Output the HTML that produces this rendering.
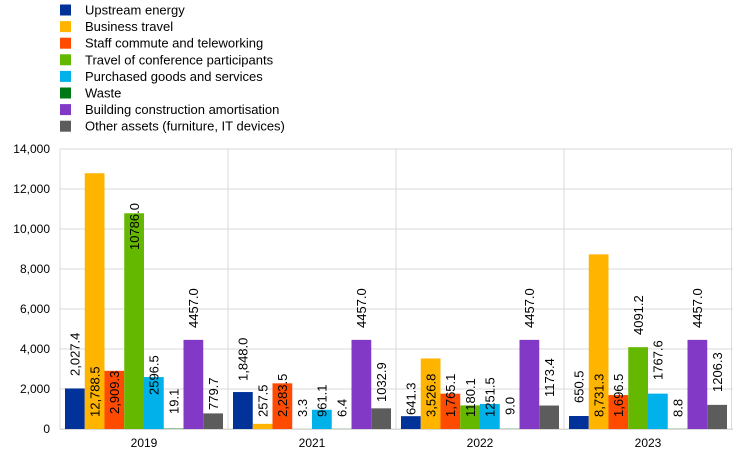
<!DOCTYPE html>
<html><head><meta charset="utf-8"><style>body{margin:0;background:#fff}svg{display:block;font-family:"Liberation Sans",Arial,sans-serif}</style></head><body>
<svg width="744" height="457" xmlns="http://www.w3.org/2000/svg">
<g id="legend" font-size="13" fill="#000"></g>
<g id="chart"></g>
<script>
var ns="http://www.w3.org/2000/svg";
function el(p,t,a,txt){var e=document.createElementNS(ns,t);for(var k in a)e.setAttribute(k,a[k]);if(txt!=null)e.textContent=txt;p.appendChild(e);return e;}
var cols=["#003299","#FFB400","#FF4B00","#65B800","#00B1EA","#007816","#8139C6","#5C5C5C"];
var names=["Upstream energy","Business travel","Staff commute and teleworking","Travel  of conference participants","Purchased goods and services","Waste","Building construction amortisation","Other assets (furniture, IT devices)"];
var lg=document.getElementById("legend");
for(var i=0;i<8;i++){var cy=10+i*16.6;el(lg,"rect",{x:60,y:cy-5.5,width:11,height:11,fill:cols[i]});el(lg,"text",{x:85,y:cy+4.5,"xml:space":"preserve"},names[i]);}
var c=document.getElementById("chart");
for(var v=0;v<=14000;v+=2000){var y=429-v*0.02;el(c,"line",{x1:60,x2:733,y1:y,y2:y,stroke:"#d9d9d9","stroke-width":1});el(c,"text",{x:50,y:y+4,"font-size":12,"text-anchor":"end"},v.toLocaleString("en-US"));}
for(var g=0;g<=4;g++){var x=60+168*g+(g==4?-0.5:0);el(c,"line",{x1:x,x2:x,y1:149,y2:429,stroke:"#d9d9d9"});}
var data=[[2027.4,12788.5,2909.3,10786.0,2596.5,19.1,4457.0,779.7],[1848.0,257.5,2283.5,3.3,961.1,6.4,4457.0,1032.9],[641.3,3526.8,1765.1,1180.1,1251.5,9.0,4457.0,1173.4],[650.5,8731.3,1696.5,4091.2,1767.6,8.8,4457.0,1206.3]];
var labs=[["2,027.4","12,788.5","2,909.3","10786.0","2596.5","19.1","4457.0","779.7"],["1,848.0","257.5","2,283.5","3.3","961.1","6.4","4457.0","1032.9"],["641.3","3,526.8","1,765.1","1180.1","1251.5","9.0","4457.0","1173.4"],["650.5","8,731.3","1,696.5","4091.2","1767.6","8.8","4457.0","1206.3"]];
var lb=[[376,417,414,250,395,414,328,410],[381,417,417,417,417,417,328,402],[415,417,417,417,417,415,328,397],[403,417,417,335,380,417,328,392]];
var years=["2019","2021","2022","2023"];
for(var g=0;g<4;g++){var s=60+168*g+5;
for(var j=0;j<8;j++){var x=s+19.75*j,h=data[g][j]*0.02;el(c,"rect",{x:x,y:429-h,width:19.75,height:h,fill:cols[j]});}
for(var j=0;j<8;j++){var cx=s+19.75*j+9.9+4.7,by=lb[g][j];el(c,"text",{x:cx,y:by,"font-size":13,transform:"rotate(-90 "+cx+" "+by+")"},labs[g][j]);}
el(c,"text",{x:60+168*g+84,y:447,"font-size":12,"text-anchor":"middle"},years[g]);}
el(c,"line",{x1:60,x2:733,y1:429.5,y2:429.5,stroke:"#d9d9d9"});
</script>
</svg>
</body></html>
